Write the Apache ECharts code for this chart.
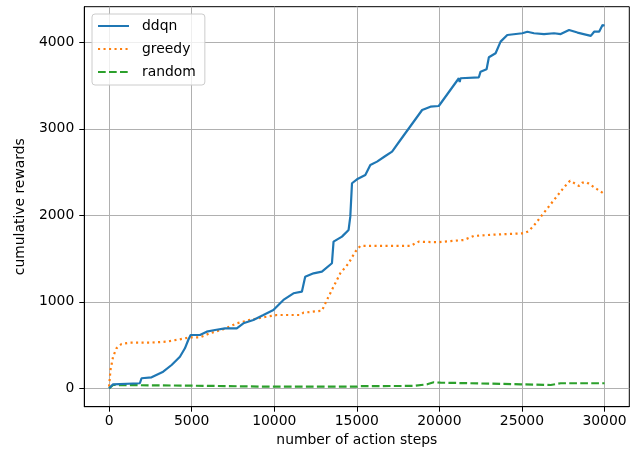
<!DOCTYPE html>
<html>
<head>
<meta charset="utf-8">
<script src="https://cdn.jsdelivr.net/npm/echarts@6/dist/echarts.min.js"></script>
<style>html,body{margin:0;padding:0;background:#fff;}#c{width:639px;height:454px;}</style>
</head>
<body>
<div id="c"></div>
<script>
var seriesNames = ['ddqn', 'greedy', 'random'];
var xTicks = [0, 5000, 10000, 15000, 20000, 25000, 30000];
var yTicks = [0, 1000, 2000, 3000, 4000];

var ddqnX = [0,243,1863,1966,2573,3277,3786,4290,4593,4794,4939,5504,5910,6414,7021,7731,8131,8738,9345,9951,10558,11165,11675,11875,12379,12888,13495,13592,14102,14503,14606,14709,15012,15516,15819,16226,16730,17136,17640,18956,19460,19964,21178,21230,21280,22391,22494,22858,22998,23404,23707,24112,25024,25327,25728,26335,26942,27348,27853,28362,29170,29370,29673,29879,30000];
var ddqnY = [0,46,58,116,127,192,269,365,462,558,616,616,654,674,693,693,751,790,847,905,1021,1098,1117,1290,1329,1348,1445,1695,1753,1830,1984,2370,2416,2466,2581,2620,2685,2735,2870,3217,3255,3263,3584,3540,3584,3595,3660,3688,3826,3873,4007,4084,4104,4122,4104,4095,4104,4095,4142,4112,4073,4122,4122,4200,4190];

var greedyX = [0,85,243,445,752,1256,2470,3483,4290,4897,5504,6111,6918,7731,8538,9345,10158,11572,11775,12888,13192,13592,14000,14503,14909,15212,18247,18750,19867,21481,22088,23302,25122,25425,25832,26335,26942,27549,27913,28459,28665,28927,29370,30000];
var greedyY = [20,212,365,462,512,527,527,539,566,589,589,636,682,751,790,821,847,847,874,897,1021,1175,1329,1445,1579,1645,1645,1695,1688,1714,1761,1776,1791,1818,1907,2030,2177,2324,2400,2339,2377,2381,2324,2245];

var randomX = [0,243,5000,9951,15012,15200,18450,19257,19662,20067,24924,26745,27348,30000];
var randomY = [0,38,30,18,18,25,27,46,69,65,46,38,58,58];

function pairs(xs, ys) { return xs.map(function (x, i) { return [x, ys[i]]; }); }

var FONT = 'DejaVu Sans';
var chart = echarts.init(document.getElementById('c'), null, {renderer: 'canvas'});
var colors = ['#1f77b4', '#ff7f0e', '#2ca02c'];
var dashes = ['solid', [2.1, 3.4], [7.7, 3.3]];
var datasets = [pairs(ddqnX, ddqnY), pairs(greedyX, greedyY), pairs(randomX, randomY)];

chart.setOption({
  animation: false,
  backgroundColor: '#ffffff',
  grid: {
    left: 84.3, right: 9.7, top: 6.7, bottom: 47.3,
    show: true, borderColor: '#000', borderWidth: 1, backgroundColor: 'transparent'
  },
  legend: {
    orient: 'vertical', left: 92, top: 14,
    data: seriesNames,
    itemWidth: 31, itemHeight: 14, itemGap: 9,
    padding: [5, 9, 6, 5],
    borderColor: '#cccccc', borderWidth: 1, borderRadius: 3,
    backgroundColor: 'rgba(255,255,255,0.8)',
    itemStyle: {color: 'transparent', borderWidth: 0, opacity: 0},
    textStyle: {fontFamily: FONT, fontSize: 13.9, color: '#000', padding: [0, 0, 0, 8]}
  },
  xAxis: {
    type: 'value', min: -1500, max: 31500,
    name: 'number of action steps', nameLocation: 'middle', nameGap: 27,
    nameTextStyle: {fontFamily: FONT, fontSize: 13.9, color: '#000'},
    axisLine: {show: true, onZero: false, lineStyle: {color: '#000', width: 1}},
    axisTick: {show: true, inside: false, length: 5, lineStyle: {color: '#000', width: 1}, customValues: xTicks},
    axisLabel: {fontFamily: FONT, fontSize: 13.9, color: '#000', margin: 8, customValues: xTicks,
      formatter: function (v) { return String(v); }},
    splitLine: {show: true, lineStyle: {color: '#b0b0b0', width: 1}}
  },
  yAxis: {
    type: 'value', min: -213, max: 4411,
    name: 'cumulative rewards', nameLocation: 'middle', nameGap: 57,
    nameTextStyle: {fontFamily: FONT, fontSize: 13.9, color: '#000'},
    axisLine: {show: true, onZero: false, lineStyle: {color: '#000', width: 1}},
    axisTick: {show: true, inside: false, length: 5, lineStyle: {color: '#000', width: 1}, customValues: yTicks},
    axisLabel: {fontFamily: FONT, fontSize: 13.9, color: '#000', margin: 10, customValues: yTicks,
      formatter: function (v) { return String(v); }},
    splitLine: {show: true, lineStyle: {color: '#b0b0b0', width: 1}}
  },
  series: seriesNames.map(function (n, i) {
    return {
      name: n, type: 'line', data: datasets[i],
      symbol: 'none', showSymbol: false,
      lineStyle: {color: colors[i], width: 2.2, type: dashes[i], cap: 'butt'},
      itemStyle: {color: colors[i]},
      z: 3 - i
    };
  })
});
</script>
</body>
</html>
